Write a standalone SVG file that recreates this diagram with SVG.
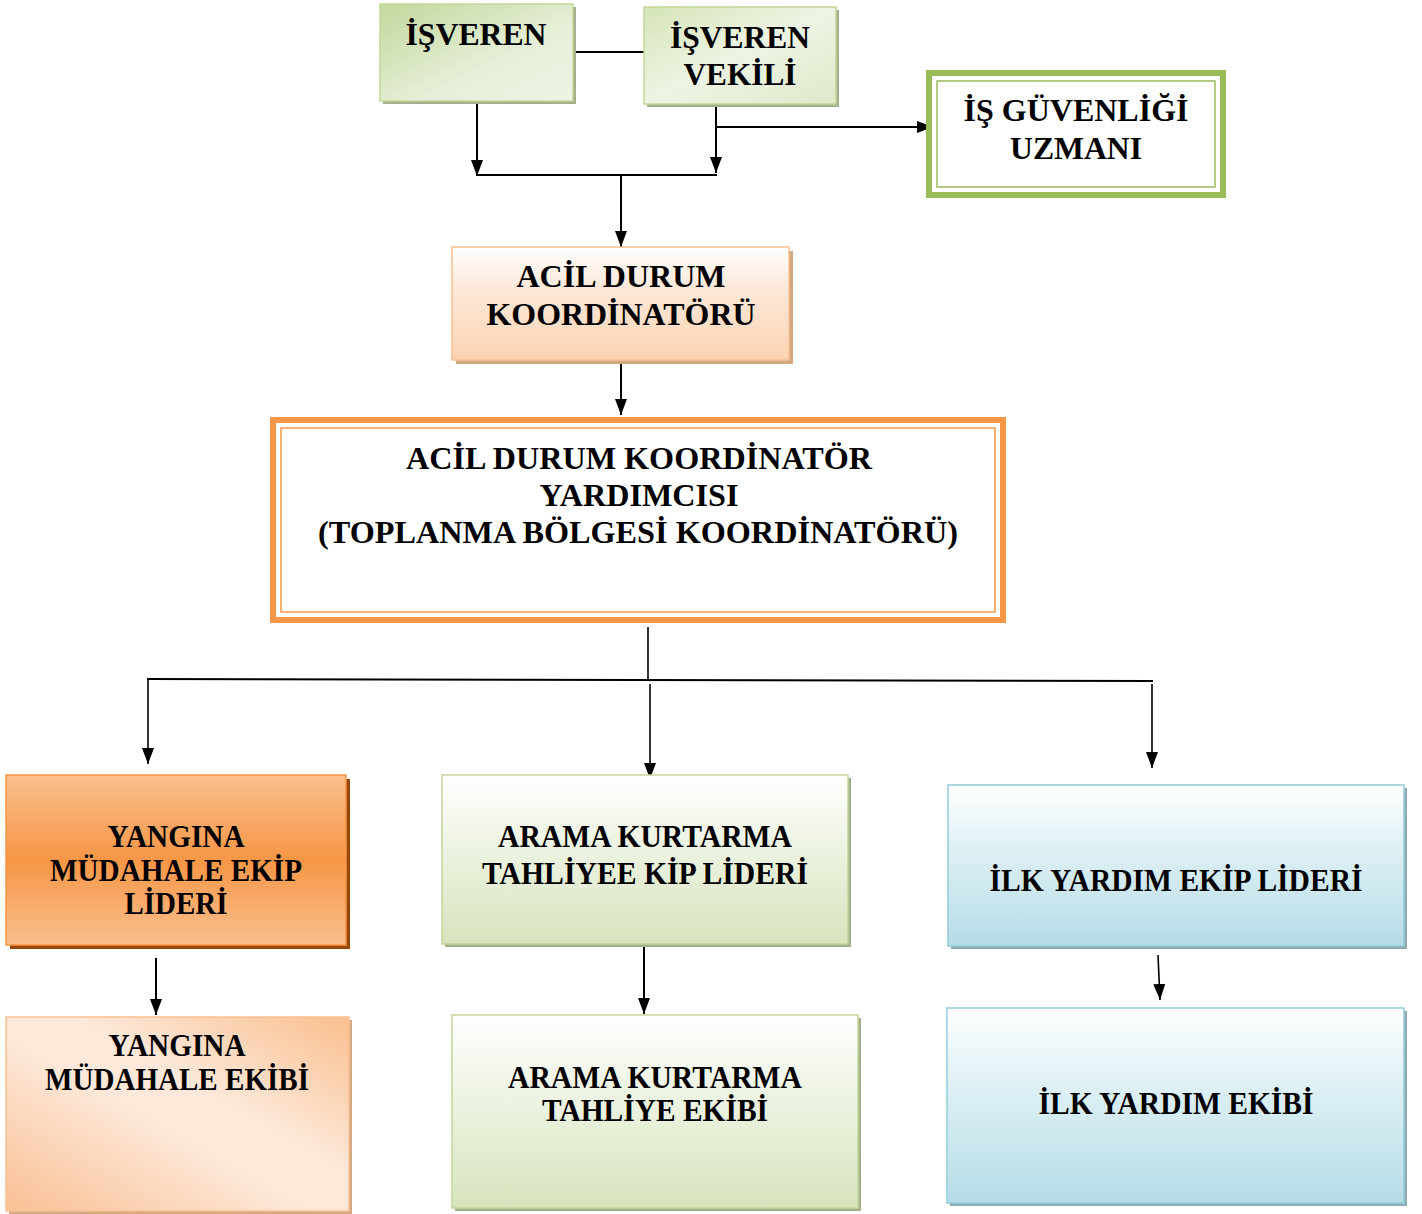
<svg xmlns="http://www.w3.org/2000/svg" width="1422" height="1214" viewBox="0 0 1422 1214">
<defs>
<linearGradient id="gGreenDiag" x1="0" y1="0" x2="1" y2="1">
<stop offset="0" stop-color="#c3d79c"/><stop offset="0.6" stop-color="#e6efd8"/><stop offset="1" stop-color="#eef4e5"/>
</linearGradient>
<linearGradient id="gGreenDiag2" x1="0" y1="0" x2="1" y2="1">
<stop offset="0" stop-color="#d5e4b8"/><stop offset="0.5" stop-color="#eef4e4"/><stop offset="1" stop-color="#dde9c8"/>
</linearGradient>
<linearGradient id="gPeach" x1="0" y1="0" x2="0" y2="1">
<stop offset="0" stop-color="#ffffff"/><stop offset="0.35" stop-color="#fde9da"/><stop offset="1" stop-color="#fbd3b3"/>
</linearGradient>
<linearGradient id="gOrange" x1="0" y1="0" x2="0" y2="1">
<stop offset="0" stop-color="#f9bf8e"/><stop offset="0.5" stop-color="#f79646"/><stop offset="1" stop-color="#f9bf8e"/>
</linearGradient>
<linearGradient id="gPeachDiag" x1="0" y1="1" x2="1" y2="0">
<stop offset="0" stop-color="#f9c094"/><stop offset="0.45" stop-color="#fde8d9"/><stop offset="0.6" stop-color="#fde8d9"/><stop offset="1" stop-color="#f9bf8e"/>
</linearGradient>
<linearGradient id="gGreenV" x1="0" y1="0" x2="0" y2="1">
<stop offset="0" stop-color="#ffffff"/><stop offset="0.4" stop-color="#eef4e4"/><stop offset="1" stop-color="#d7e4bd"/>
</linearGradient>
<linearGradient id="gBlueV" x1="0" y1="0" x2="0" y2="1">
<stop offset="0" stop-color="#ffffff"/><stop offset="0.4" stop-color="#def0f4"/><stop offset="1" stop-color="#b6dce7"/>
</linearGradient>
<marker id="arr" viewBox="0 0 16 12" refX="16" refY="6" markerWidth="16" markerHeight="12" markerUnits="userSpaceOnUse" orient="auto">
<path d="M0,0 L16,6 L0,12 Z" fill="#000"/>
</marker>
</defs>
<style>
text{font-family:"Liberation Serif","Times New Roman",serif;font-weight:bold;font-size:31px;fill:#000;text-anchor:middle}
.ln{stroke:#000;stroke-width:2;fill:none}
.lnA{stroke:#000;stroke-width:2;fill:none;marker-end:url(#arr)}
.thin{stroke-width:1.6}
</style>
<rect width="1422" height="1214" fill="#ffffff"/>

<g id="connectors">
<line class="ln" x1="573" y1="52" x2="644" y2="52"/>
<line class="lnA" x1="477" y1="103" x2="477" y2="176"/>
<line class="lnA" x1="716" y1="101" x2="716" y2="173"/>
<line class="ln" x1="476" y1="175" x2="717" y2="175"/>
<line class="lnA" x1="716" y1="127" x2="933" y2="127"/>
<line class="lnA" x1="621" y1="175" x2="621" y2="247"/>
<line class="lnA" x1="621" y1="343" x2="621" y2="415"/>
<line class="ln thin" x1="648" y1="627" x2="648" y2="680"/>
<line class="ln" x1="147" y1="679" x2="1153" y2="681"/>
<line class="lnA thin" x1="148" y1="679" x2="148" y2="764"/>
<line class="lnA thin" x1="650" y1="684" x2="650" y2="779"/>
<line class="lnA thin" x1="1152" y1="684" x2="1152" y2="768"/>
<line class="lnA" x1="156" y1="958" x2="156" y2="1015"/>
<line class="lnA" x1="644" y1="944" x2="644" y2="1014"/>
<line class="lnA thin" x1="1158" y1="955" x2="1160" y2="1000"/>
</g>

<g id="isveren">
<rect x="383" y="7" width="193" height="97" fill="#a4b08c"/>
<rect x="380" y="4" width="193" height="97" fill="url(#gGreenDiag)" stroke="#c3d69b" stroke-width="1.5"/>
<text x="476" y="45" textLength="141" lengthAdjust="spacingAndGlyphs">İŞVEREN</text>
</g>

<g id="isveren-vekili">
<rect x="647" y="10" width="192" height="97" fill="#a4b08c"/>
<rect x="644" y="7" width="192" height="97" fill="url(#gGreenDiag2)" stroke="#c3d69b" stroke-width="1.5"/>
<text x="740" y="48" textLength="140" lengthAdjust="spacingAndGlyphs">İŞVEREN</text>
<text x="740" y="85" textLength="113" lengthAdjust="spacingAndGlyphs">VEKİLİ</text>
</g>

<g id="is-guvenligi-uzmani">
<rect x="929" y="73" width="294" height="122" fill="#ffffff" stroke="#9bbb59" stroke-width="6"/>
<rect x="937" y="81" width="278" height="106" fill="none" stroke="#9bbb59" stroke-width="1.5"/>
<text x="1076" y="121" textLength="225" lengthAdjust="spacingAndGlyphs">İŞ GÜVENLİĞİ</text>
<text x="1076" y="159" textLength="132" lengthAdjust="spacingAndGlyphs">UZMANI</text>
</g>

<g id="acil-durum-koordinatoru">
<rect x="456" y="251" width="337" height="113" fill="#d2a883"/>
<rect x="452" y="247" width="337" height="113" fill="url(#gPeach)" stroke="#fac090" stroke-width="1.5"/>
<text x="621" y="287" textLength="209" lengthAdjust="spacingAndGlyphs">ACİL DURUM</text>
<text x="621" y="325" textLength="269" lengthAdjust="spacingAndGlyphs">KOORDİNATÖRÜ</text>
</g>

<g id="acil-durum-koordinator-yardimcisi">
<rect x="273" y="420" width="730" height="200" fill="#ffffff" stroke="#f79646" stroke-width="6"/>
<rect x="281" y="428" width="714" height="184" fill="none" stroke="#f79646" stroke-width="1.5"/>
<text x="639" y="469" textLength="466" lengthAdjust="spacingAndGlyphs">ACİL DURUM KOORDİNATÖR</text>
<text x="639" y="506" textLength="199" lengthAdjust="spacingAndGlyphs">YARDIMCISI</text>
<text x="638" y="543" textLength="640" lengthAdjust="spacingAndGlyphs">(TOPLANMA BÖLGESİ KOORDİNATÖRÜ)</text>
</g>

<g id="yangina-mudahale-ekip-lideri">
<rect x="10" y="779" width="340" height="170" fill="#984806"/>
<rect x="6" y="775" width="340" height="170" fill="url(#gOrange)" stroke="#f79646" stroke-width="1.5"/>
<text x="176" y="847" textLength="137" lengthAdjust="spacingAndGlyphs">YANGINA</text>
<text x="176" y="881" textLength="252" lengthAdjust="spacingAndGlyphs">MÜDAHALE EKİP</text>
<text x="176" y="914" textLength="103" lengthAdjust="spacingAndGlyphs">LİDERİ</text>
</g>

<g id="yangina-mudahale-ekibi">
<rect x="9" y="1020" width="343" height="194" fill="#d3a984"/>
<rect x="6" y="1017" width="343" height="194" fill="url(#gPeachDiag)" stroke="#fac090" stroke-width="1.5"/>
<text x="177" y="1056" textLength="137" lengthAdjust="spacingAndGlyphs">YANGINA</text>
<text x="177" y="1090" textLength="264" lengthAdjust="spacingAndGlyphs">MÜDAHALE EKİBİ</text>
</g>

<g id="arama-kurtarma-lideri">
<rect x="445" y="778" width="406" height="169" fill="#a4b08c"/>
<rect x="442" y="775" width="406" height="169" fill="url(#gGreenV)" stroke="#c3d69b" stroke-width="1.5"/>
<text x="645" y="847" textLength="294" lengthAdjust="spacingAndGlyphs">ARAMA KURTARMA</text>
<text x="645" y="884" textLength="326" lengthAdjust="spacingAndGlyphs">TAHLİYEE KİP LİDERİ</text>
</g>

<g id="arama-kurtarma-ekibi">
<rect x="455" y="1018" width="406" height="193" fill="#a4b08c"/>
<rect x="452" y="1015" width="406" height="193" fill="url(#gGreenV)" stroke="#c3d69b" stroke-width="1.5"/>
<text x="655" y="1088" textLength="294" lengthAdjust="spacingAndGlyphs">ARAMA KURTARMA</text>
<text x="655" y="1121" textLength="226" lengthAdjust="spacingAndGlyphs">TAHLİYE EKİBİ</text>
</g>

<g id="ilk-yardim-ekip-lideri">
<rect x="951" y="788" width="456" height="161" fill="#8eaab3"/>
<rect x="948" y="785" width="456" height="161" fill="url(#gBlueV)" stroke="#92cddc" stroke-width="1.5"/>
<text x="1176" y="891" textLength="373" lengthAdjust="spacingAndGlyphs">İLK YARDIM EKİP LİDERİ</text>
</g>

<g id="ilk-yardim-ekibi">
<rect x="950" y="1011" width="457" height="195" fill="#8eaab3"/>
<rect x="947" y="1008" width="457" height="195" fill="url(#gBlueV)" stroke="#92cddc" stroke-width="1.5"/>
<text x="1176" y="1114" textLength="275" lengthAdjust="spacingAndGlyphs">İLK YARDIM EKİBİ</text>
</g>
</svg>
